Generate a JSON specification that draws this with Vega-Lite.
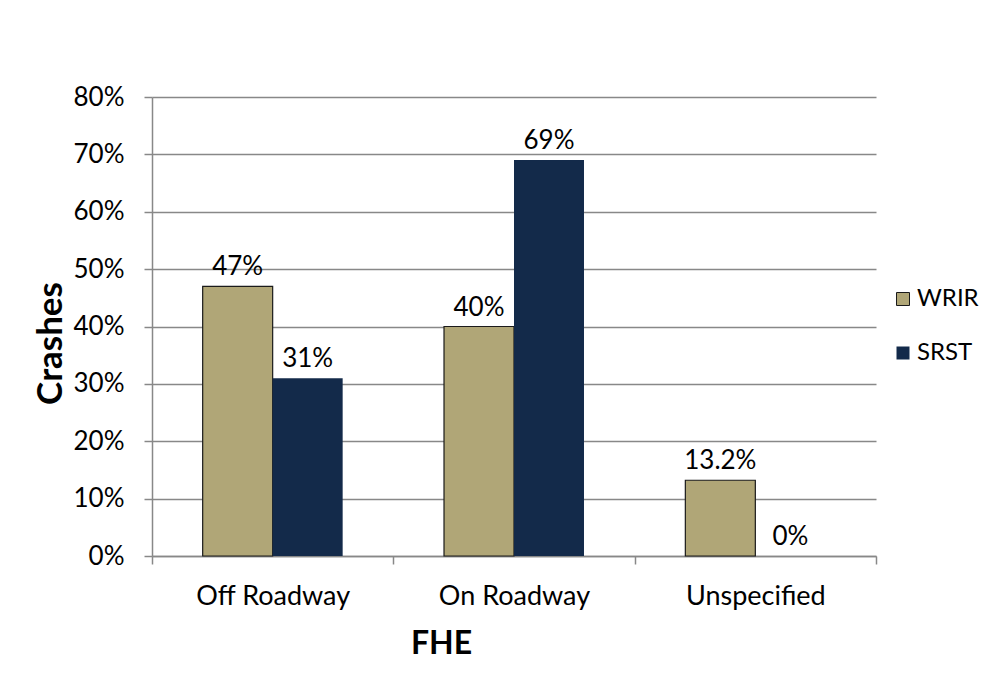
{
  "$schema": "https://vega.github.io/schema/vega-lite/v6.json",
  "width": 724,
  "height": 459,
  "autosize": {"type": "none"},
  "padding": {"left": 152, "top": 97, "right": 121, "bottom": 117},
  "background": "white",
  "config": {
    "view": {"stroke": null},
    "font": "Lato",
    "text": {"font": "Lato"}
  },
  "data": {
    "values": [
      {"fhe": "Off Roadway", "series": "WRIR", "share": 0.47, "label": "47%"},
      {"fhe": "Off Roadway", "series": "SRST", "share": 0.31, "label": "31%"},
      {"fhe": "On Roadway", "series": "WRIR", "share": 0.40, "label": "40%"},
      {"fhe": "On Roadway", "series": "SRST", "share": 0.69, "label": "69%"},
      {"fhe": "Unspecified", "series": "WRIR", "share": 0.132, "label": "13.2%"},
      {"fhe": "Unspecified", "series": "SRST", "share": 0.0, "label": "0%"}
    ]
  },
  "encoding": {
    "x": {
      "field": "fhe",
      "type": "nominal",
      "sort": ["Off Roadway", "On Roadway", "Unspecified"],
      "scale": {"paddingInner": 0, "paddingOuter": 0},
      "axis": {
        "title": "FHE",
        "labelAngle": 0,
        "labelFont": "Lato",
        "labelFontSize": 27,
        "labelColor": "#000000",
        "labelBaseline": "alphabetic",
        "labelPadding": 40,
        "tickBand": "extent",
        "tickSize": 8,
        "tickColor": "#888888",
        "tickWidth": 1.5,
        "domainColor": "#888888",
        "domainWidth": 1.5,
        "titleFont": "Lato",
        "titleFontSize": 32,
        "titleFontWeight": "bold",
        "titleColor": "#000000",
        "titleX": 289,
        "titleY": 97,
        "titleAlign": "center",
        "titleBaseline": "alphabetic"
      }
    },
    "xOffset": {
      "field": "series",
      "type": "nominal",
      "sort": ["WRIR", "SRST"],
      "scale": {"paddingInner": 0, "paddingOuter": 0.724}
    },
    "y": {
      "field": "share",
      "type": "quantitative",
      "scale": {"domain": [0, 0.8], "nice": false},
      "axis": {
        "title": "Crashes",
        "values": [0, 0.1, 0.2, 0.3, 0.4, 0.5, 0.6, 0.7, 0.8],
        "format": ".0%",
        "labelFont": "Lato",
        "labelFontSize": 26,
        "labelColor": "#000000",
        "labelPadding": 20,
        "tickSize": 8,
        "tickColor": "#888888",
        "tickWidth": 1.5,
        "domainColor": "#888888",
        "domainWidth": 1.5,
        "grid": true,
        "gridColor": "#888888",
        "gridWidth": 1.5,
        "titleFont": "Lato",
        "titleFontSize": 35,
        "titleFontWeight": "bold",
        "titleColor": "#000000",
        "titleAngle": 270,
        "titleX": -102,
        "titleY": 246,
        "titleAlign": "center",
        "titleBaseline": "middle"
      }
    }
  },
  "layer": [
    {
      "mark": {"type": "bar", "strokeWidth": 1.2},
      "encoding": {
        "color": {
          "field": "series",
          "type": "nominal",
          "sort": ["WRIR", "SRST"],
          "scale": {"domain": ["WRIR", "SRST"], "range": ["#b0a677", "#132a4a"]},
          "legend": {
            "title": null,
            "orient": "none",
            "legendX": 739,
            "legendY": 190,
            "padding": 0,
            "symbolType": "square",
            "symbolSize": 169,
            "symbolStrokeWidth": 1,
            "symbolOpacity": 1,
            "labelFont": "Lato",
            "labelFontSize": 24,
            "labelColor": "#000000",
            "labelOffset": 2,
            "rowPadding": 30
          }
        },
        "stroke": {
          "field": "series",
          "type": "nominal",
          "sort": ["WRIR", "SRST"],
          "scale": {"domain": ["WRIR", "SRST"], "range": ["#1a1a1a", "transparent"]}
        }
      }
    },
    {
      "mark": {
        "type": "text",
        "baseline": "alphabetic",
        "dy": -11,
        "fontSize": 26,
        "font": "Lato",
        "color": "#000000"
      },
      "encoding": {"text": {"field": "label"}}
    }
  ]
}
